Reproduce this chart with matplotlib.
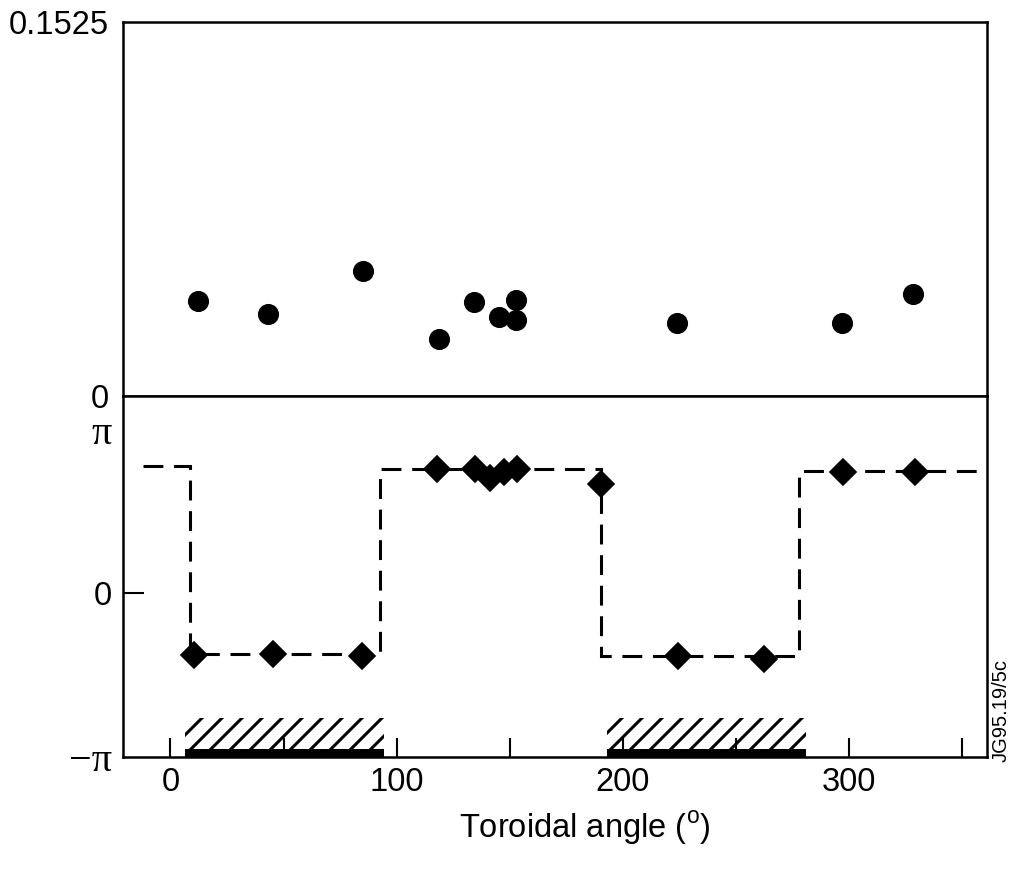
import numpy as np
import matplotlib
matplotlib.use("Agg")
import matplotlib.pyplot as plt

DPI = 120          # hatch tile follows dpi, 120 gives the sparser hatch of the original
K = 100 / DPI      # keeps sizes as they looked at 100 dpi

plt.rcParams['font.family'] = ['Liberation Sans', 'DejaVu Sans']
plt.rcParams['mathtext.fontset'] = 'custom'
plt.rcParams['mathtext.rm'] = 'Liberation Sans'
plt.rcParams['hatch.linewidth'] = 2.2 * K

# amplitude (top panel)
amp_angle = [12.1, 43.0, 85.0, 118.9, 134.0, 145.4, 152.8, 152.8, 223.9, 296.8, 328.4]
amp_value = [0.0389, 0.0334, 0.0508, 0.0233, 0.0383, 0.0322, 0.0392, 0.0308, 0.0297, 0.0297, 0.0415]

# phase (bottom panel)
ph_angle = [10.3, 45.2, 84.7, 117.9, 134.8, 141.1, 147.3, 153.2, 190.2, 224.2, 262.6, 297.5, 329.2]
ph_value = [-1.18, -1.17, -1.21, 2.40, 2.40, 2.21, 2.34, 2.40, 2.10, -1.20, -1.25, 2.34, 2.34]

# dashed step fit
step_edges = [-12, 8.8, 92.8, 190.4, 278, 361]
step_levels = [2.45, -1.17, 2.40, -1.21, 2.36]

# coil sectors along the bottom
sector_start = [6.6, 193.1]
sector_end = [94.6, 281.0]

fig = plt.figure(figsize=(1016 / DPI, 877 / DPI), dpi=DPI)
ax1 = fig.add_axes([0.121, 0.5485, 0.8505, 0.4265])
ax2 = fig.add_axes([0.121, 0.1368, 0.8505, 0.4117])

for ax in (ax1, ax2):
    ax.set_xlim(-21, 361)
    for s in ax.spines.values():
        s.set_linewidth(1.8 * K)

# top panel
ax1.plot(amp_angle, amp_value, 'o', color='black', markersize=14 * K)
ax1.set_ylim(0, 0.1525)
ax1.set_yticks([0, 0.1525])
ax1.set_yticklabels(['0', '0.1525'])
ax1.set_xticks([])
ax1.tick_params(axis='y', length=0, labelsize=23.5 * K, pad=10 * K)

# bottom panel
ax2.stairs(step_levels, step_edges, baseline=None, color='black',
           linewidth=2.2 * K, linestyle=(0, (6.5, 3.5)))
ax2.plot(ph_angle, ph_value, 'D', color='black', markersize=13 * K)

ylo, yhi = -np.pi, 3.794
ax2.set_ylim(ylo, yhi)
widths = [e - s for s, e in zip(sector_start, sector_end)]
ax2.bar(sector_start, [0.15] * 2, width=widths, bottom=ylo, align='edge',
        color='black', linewidth=0)
ax2.bar(sector_start, [0.6] * 2, width=widths, bottom=-2.99, align='edge',
        color='none', edgecolor='black', hatch='//', linewidth=0)

ax2.set_yticks([-np.pi, 0, np.pi])
ax2.set_yticklabels(['\u2212\u03c0', '0', '\u03c0'])
ax2.tick_params(axis='y', direction='in', length=15 * K, width=1.5 * K,
                labelsize=23.5 * K, pad=8 * K)
for lab in ax2.get_yticklabels():
    if lab.get_text() != '0':
        lab.set_fontfamily('Liberation Serif')
        lab.set_fontsize(29 * K)
yt = ax2.yaxis.get_major_ticks()
yt[0].tick1line.set_visible(False)
yt[2].tick1line.set_visible(False)

ax2.set_xticks(np.arange(0, 351, 50))
ax2.set_xticklabels(['0', '', '100', '', '200', '', '300', ''])
ax2.tick_params(axis='x', direction='in', length=14 * K, width=1.5 * K,
                labelsize=23.5 * K, pad=7 * K)
ax2.set_xlabel('Toroidal angle ($^{\\mathrm{o}}$)', fontsize=23.5 * K)
ax2.xaxis.set_label_coords(0.535, -0.145)

fig.text(0.985, 0.19, 'JG95.19/5c', rotation=90, fontsize=14.5 * K, ha='center', va='center')

fig.savefig('out.png', dpi=DPI)
